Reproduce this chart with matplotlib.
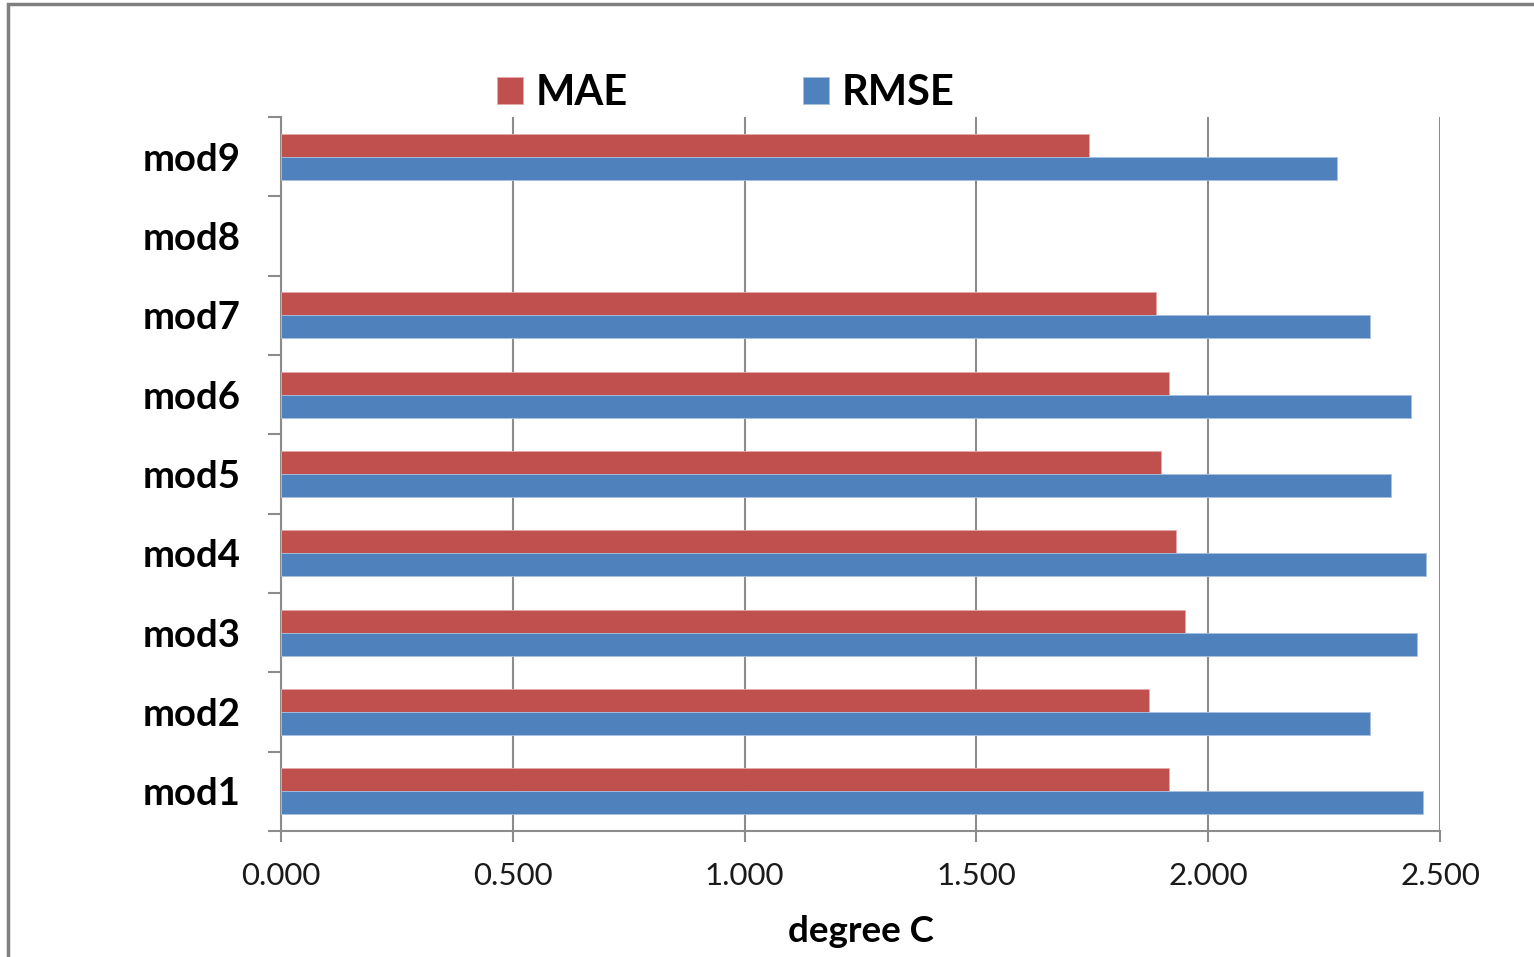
import numpy as np
import matplotlib.pyplot as plt
from matplotlib.patches import Rectangle
from matplotlib.ticker import FixedLocator, FormatStrFormatter

models = ['mod1', 'mod2', 'mod3', 'mod4', 'mod5', 'mod6', 'mod7', 'mod8', 'mod9']
mae = [1.915, 1.873, 1.949, 1.931, 1.898, 1.915, 1.887, np.nan, 1.742]
rmse = [2.463, 2.348, 2.451, 2.469, 2.394, 2.437, 2.348, np.nan, 2.277]
x_ticks = [0.0, 0.5, 1.0, 1.5, 2.0, 2.5]

RED = '#C0504D'
BLUE = '#4F81BD'
GRID = '#8C8C8C'

plt.rcParams['font.family'] = ['Lato', 'DejaVu Sans']

fig = plt.figure(figsize=(15.34, 9.57), dpi=100)
ax = fig.add_axes([281 / 1534, 1 - 831 / 957, (1440 - 281) / 1534, (831 - 117) / 957])

y = np.arange(len(models))
h = 0.29
ax.barh(y + h / 2, mae, height=h, color=RED, edgecolor='#E6A9A8', linewidth=0.6, label='MAE', zorder=3)
ax.barh(y - h / 2, rmse, height=h, color=BLUE, edgecolor='#A9C0E0', linewidth=0.6, label='RMSE', zorder=3)

ax.set_xlim(0, 2.5)
ax.set_ylim(-0.5, len(models) - 0.5)

ax.set_xticks(x_ticks)
ax.xaxis.set_major_formatter(FormatStrFormatter('%.3f'))
ax.tick_params(axis='x', length=8, width=1.5, color=GRID, pad=14, labelsize=22.5, labelcolor='#1a1a1a')

ax.set_yticks(y)
ax.set_yticklabels(models, fontweight='bold', fontsize=27.5)
ax.yaxis.set_minor_locator(FixedLocator(np.arange(-0.5, len(models), 1.0)))
ax.tick_params(axis='y', which='major', length=0, pad=29)
ax.tick_params(axis='y', which='minor', length=9.5, width=1.5, color=GRID)

ax.grid(axis='x', color=GRID, linewidth=1.5, zorder=0)
ax.set_axisbelow(True)
for side in ['top', 'right']:
    ax.spines[side].set_visible(False)
for side in ['left', 'bottom']:
    ax.spines[side].set_color(GRID)
    ax.spines[side].set_linewidth(1.5)

ax.set_xlabel('degree C', fontsize=26.5, fontweight='bold', labelpad=18)

ax.legend(loc='center', bbox_to_anchor=(0.384, 1.034),
          ncol=2, frameon=False, handlelength=0.62, handleheight=0.62,
          handletextpad=0.31, columnspacing=4.2,
          prop={'weight': 'bold', 'size': 30})

# outer chart border
fig.patches.append(Rectangle((8 / 1534, -0.05), 1.2, 1 - 4 / 957 + 0.05,
                             transform=fig.transFigure, fill=False,
                             edgecolor='#808080', linewidth=2.5))

fig.savefig('out.png', dpi=100)
